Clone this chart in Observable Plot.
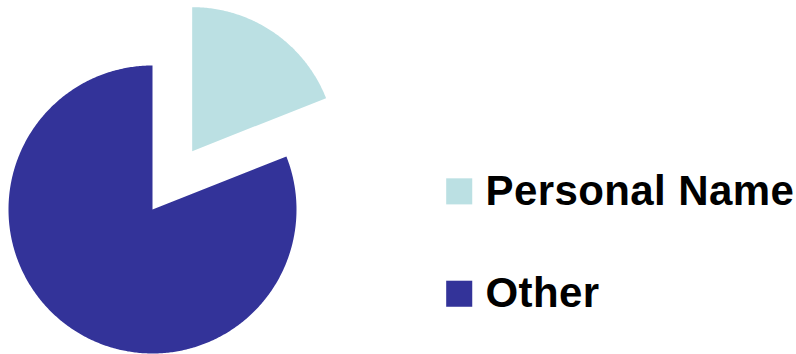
<!DOCTYPE html>
<html>
<head>
<meta charset="utf-8">
<script src="https://cdn.jsdelivr.net/npm/d3@7"></script>
<script src="https://cdn.jsdelivr.net/npm/@observablehq/plot@0.6"></script>
<style>
  html, body { margin: 0; padding: 0; background: #fff; }
  #chart svg { display: block; }
  #chart svg text { letter-spacing: 0.4px; }
</style>
</head>
<body>
<div id="chart"></div>
<script>
// Data
const categories = ["Personal Name", "Other"];
const values = [19, 81];
const colors = ["#BBE0E3", "#333399"];
const exploded = [true, false];

const pie = d3.pie().sort(null).value(d => d.value);
const rows = categories.map((c, i) => ({ key: c, value: values[i], explode: exploded[i] }));
const arcs = pie(rows);

const EXPLODE = 0.49;
const pts = [];
for (const a of arcs) {
  const mid = (a.startAngle + a.endAngle) / 2;
  const ox = a.data.explode ? Math.sin(mid) * EXPLODE : 0;
  const oy = a.data.explode ? Math.cos(mid) * EXPLODE : 0;
  pts.push({ key: a.data.key, x: ox, y: oy });
  const n = Math.max(2, Math.ceil((a.endAngle - a.startAngle) / 0.01));
  for (let k = 0; k <= n; k++) {
    const t = a.startAngle + (a.endAngle - a.startAngle) * k / n;
    pts.push({ key: a.data.key, x: ox + Math.sin(t), y: oy + Math.cos(t) });
  }
}

const legendX = 2.13, textX = 2.3125;
const legendY = [0.126, -0.585];
const legend = categories.map((c, i) => ({ key: c, x: legendX, tx: textX, y: legendY[i] }));

const chart = Plot.plot({
  width: 796,
  height: 354,
  margin: 0,
  x: { domain: [-1, 1], range: [8, 296], axis: null },
  y: { domain: [-1, 1], range: [353, 65], axis: null },
  color: { domain: categories, range: colors },
  style: { background: "#fff" },
  marks: [
    Plot.line(pts, { x: "x", y: "y", z: "key", fill: "key", stroke: null, curve: "linear-closed" }),
    Plot.dot(legend, { x: "x", y: "y", symbol: "square", r: 14.7, fill: "key", stroke: null }),
    Plot.text(legend, { x: "tx", y: "y", text: "key", textAnchor: "start", fontSize: 42, fontWeight: "bold", fontFamily: "Liberation Sans, Arial, sans-serif", fill: "#000" })
  ]
});
document.getElementById("chart").appendChild(chart);
</script>
</body>
</html>
